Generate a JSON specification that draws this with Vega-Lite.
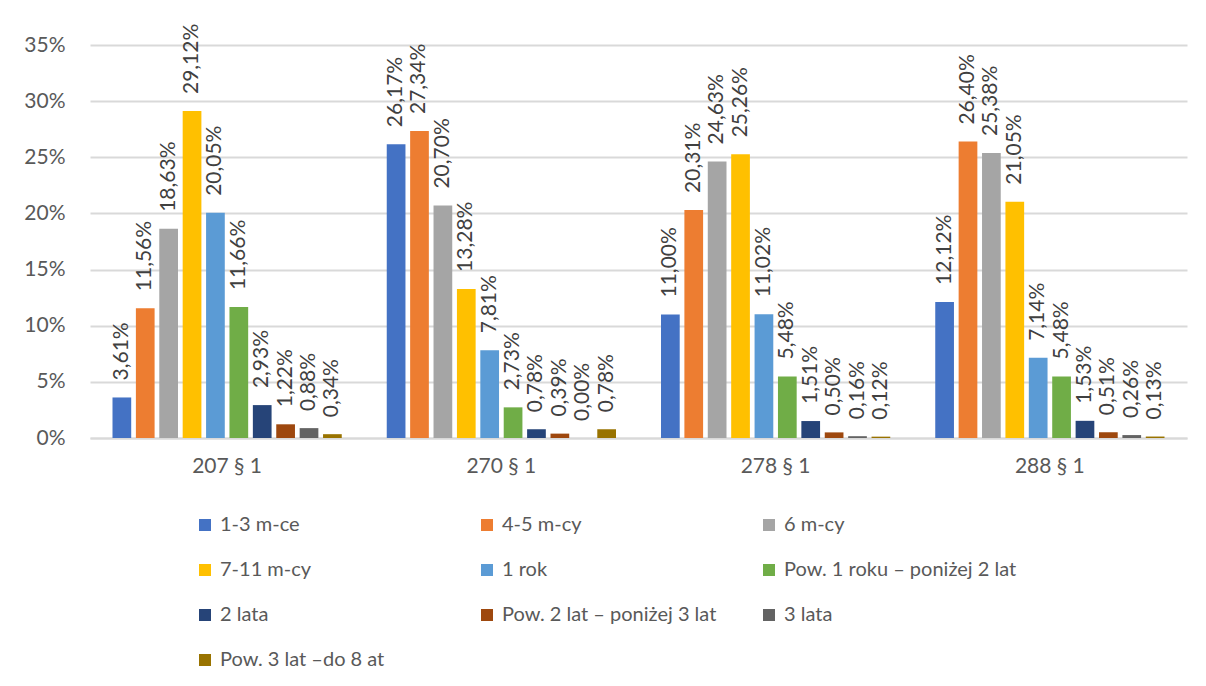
{
  "$schema": "https://vega.github.io/schema/vega-lite/v6.json",
  "width": 1097,
  "height": 393,
  "autosize": {"type": "none"},
  "padding": {"left": 90, "top": 45, "right": 19, "bottom": 248},
  "background": "white",
  "config": {
    "locale": {"number": {"decimal": ",", "thousands": " ", "grouping": [3], "currency": ["", " zł"]}},
    "font": "Lato",
    "view": {"stroke": null}
  },
  "data": {
    "values": [
      {"artykul": "207 § 1", "okres": "1-3 m-ce", "udzial": 0.0361},
      {"artykul": "207 § 1", "okres": "4-5 m-cy", "udzial": 0.1156},
      {"artykul": "207 § 1", "okres": "6 m-cy", "udzial": 0.1863},
      {"artykul": "207 § 1", "okres": "7-11 m-cy", "udzial": 0.2912},
      {"artykul": "207 § 1", "okres": "1 rok", "udzial": 0.2005},
      {"artykul": "207 § 1", "okres": "Pow. 1 roku – poniżej 2 lat", "udzial": 0.1166},
      {"artykul": "207 § 1", "okres": "2 lata", "udzial": 0.0293},
      {"artykul": "207 § 1", "okres": "Pow. 2 lat – poniżej 3 lat", "udzial": 0.0122},
      {"artykul": "207 § 1", "okres": "3 lata", "udzial": 0.0088},
      {"artykul": "207 § 1", "okres": "Pow. 3 lat –do 8 at", "udzial": 0.0034},
      {"artykul": "270 § 1", "okres": "1-3 m-ce", "udzial": 0.2617},
      {"artykul": "270 § 1", "okres": "4-5 m-cy", "udzial": 0.2734},
      {"artykul": "270 § 1", "okres": "6 m-cy", "udzial": 0.2070},
      {"artykul": "270 § 1", "okres": "7-11 m-cy", "udzial": 0.1328},
      {"artykul": "270 § 1", "okres": "1 rok", "udzial": 0.0781},
      {"artykul": "270 § 1", "okres": "Pow. 1 roku – poniżej 2 lat", "udzial": 0.0273},
      {"artykul": "270 § 1", "okres": "2 lata", "udzial": 0.0078},
      {"artykul": "270 § 1", "okres": "Pow. 2 lat – poniżej 3 lat", "udzial": 0.0039},
      {"artykul": "270 § 1", "okres": "3 lata", "udzial": 0.0},
      {"artykul": "270 § 1", "okres": "Pow. 3 lat –do 8 at", "udzial": 0.0078},
      {"artykul": "278 § 1", "okres": "1-3 m-ce", "udzial": 0.1100},
      {"artykul": "278 § 1", "okres": "4-5 m-cy", "udzial": 0.2031},
      {"artykul": "278 § 1", "okres": "6 m-cy", "udzial": 0.2463},
      {"artykul": "278 § 1", "okres": "7-11 m-cy", "udzial": 0.2526},
      {"artykul": "278 § 1", "okres": "1 rok", "udzial": 0.1102},
      {"artykul": "278 § 1", "okres": "Pow. 1 roku – poniżej 2 lat", "udzial": 0.0548},
      {"artykul": "278 § 1", "okres": "2 lata", "udzial": 0.0151},
      {"artykul": "278 § 1", "okres": "Pow. 2 lat – poniżej 3 lat", "udzial": 0.0050},
      {"artykul": "278 § 1", "okres": "3 lata", "udzial": 0.0016},
      {"artykul": "278 § 1", "okres": "Pow. 3 lat –do 8 at", "udzial": 0.0012},
      {"artykul": "288 § 1", "okres": "1-3 m-ce", "udzial": 0.1212},
      {"artykul": "288 § 1", "okres": "4-5 m-cy", "udzial": 0.2640},
      {"artykul": "288 § 1", "okres": "6 m-cy", "udzial": 0.2538},
      {"artykul": "288 § 1", "okres": "7-11 m-cy", "udzial": 0.2105},
      {"artykul": "288 § 1", "okres": "1 rok", "udzial": 0.0714},
      {"artykul": "288 § 1", "okres": "Pow. 1 roku – poniżej 2 lat", "udzial": 0.0548},
      {"artykul": "288 § 1", "okres": "2 lata", "udzial": 0.0153},
      {"artykul": "288 § 1", "okres": "Pow. 2 lat – poniżej 3 lat", "udzial": 0.0051},
      {"artykul": "288 § 1", "okres": "3 lata", "udzial": 0.0026},
      {"artykul": "288 § 1", "okres": "Pow. 3 lat –do 8 at", "udzial": 0.0013}
    ]
  },
  "encoding": {
    "x": {
      "field": "artykul",
      "type": "nominal",
      "sort": ["207 § 1", "270 § 1", "278 § 1", "288 § 1"],
      "scale": {"paddingInner": 0.147, "paddingOuter": 0.0735},
      "axis": {
        "title": null,
        "labelAngle": 0,
        "labelFontSize": 21,
        "labelColor": "#595959",
        "ticks": false,
        "domain": true,
        "domainColor": "#d9d9d9",
        "domainWidth": 2,
        "labelPadding": 17,
        "grid": false
      }
    },
    "xOffset": {
      "field": "okres",
      "type": "nominal",
      "sort": ["1-3 m-ce", "4-5 m-cy", "6 m-cy", "7-11 m-cy", "1 rok", "Pow. 1 roku – poniżej 2 lat", "2 lata", "Pow. 2 lat – poniżej 3 lat", "3 lata", "Pow. 3 lat –do 8 at"],
      "scale": {"paddingInner": 0.2, "paddingOuter": 0.1}
    },
    "y": {
      "field": "udzial",
      "type": "quantitative",
      "scale": {"domain": [0, 0.35], "nice": false},
      "axis": {
        "title": null,
        "values": [0, 0.05, 0.1, 0.15, 0.2, 0.25, 0.3, 0.35],
        "format": ".0%",
        "labelFontSize": 21,
        "labelColor": "#595959",
        "ticks": false,
        "domain": false,
        "gridColor": "#d9d9d9",
        "gridWidth": 2,
        "labelPadding": 25
      }
    }
  },
  "layer": [
    {
      "mark": {"type": "bar"},
      "encoding": {
        "color": {
          "field": "okres",
          "type": "nominal",
          "scale": {
            "domain": ["1-3 m-ce", "4-5 m-cy", "6 m-cy", "7-11 m-cy", "1 rok", "Pow. 1 roku – poniżej 2 lat", "2 lata", "Pow. 2 lat – poniżej 3 lat", "3 lata", "Pow. 3 lat –do 8 at"],
            "range": ["#4472C4", "#ED7D31", "#A5A5A5", "#FFC000", "#5B9BD5", "#70AD47", "#264478", "#9E480E", "#636363", "#997300"]
          },
          "legend": {
            "title": null,
            "orient": "none",
            "direction": "horizontal",
            "legendX": 105,
            "legendY": 470,
            "columns": 3,
            "gridAlign": "all",
            "columnPadding": 24,
            "rowPadding": 25,
            "symbolType": "square",
            "symbolSize": 144,
            "symbolStrokeWidth": 0,
            "labelFontSize": 20,
            "labelColor": "#595959",
            "labelOffset": 5,
            "labelLimit": 400,
            "padding": 0
          }
        }
      }
    },
    {
      "mark": {"type": "text", "angle": 270, "align": "left", "baseline": "middle", "dx": 17, "fontSize": 21, "color": "#404040"},
      "encoding": {
        "text": {"field": "udzial", "type": "quantitative", "format": ".2%"}
      }
    }
  ]
}
